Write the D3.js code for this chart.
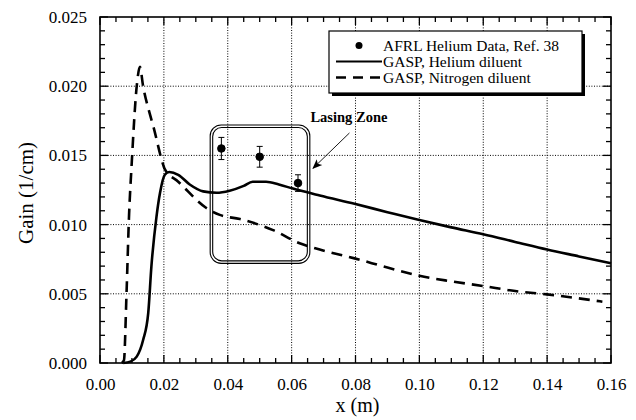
<!DOCTYPE html>
<html>
<head>
<meta charset="utf-8">
<script src="https://cdn.jsdelivr.net/npm/d3@7.9.0/dist/d3.min.js"></script>
<style>
  html, body { margin: 0; padding: 0; background: #fff; }
  svg, svg text { font-family: 'Liberation Serif', 'Times New Roman', serif; }
  .axis path, .axis line { display: none; }
  .axis text { font-size: 17px; fill: #000; font-family: 'Liberation Serif', serif; }
</style>
</head>
<body>
<div id="chart"></div>
<script>
// GASP helium diluent (solid)
const heliumX = [0.0073, 0.0095, 0.0115, 0.0135, 0.0151, 0.0161, 0.0177, 0.0188, 0.0203, 0.0217, 0.0245,
  0.0281, 0.0323, 0.0365, 0.0406, 0.045, 0.0478, 0.052, 0.056, 0.0604, 0.0688, 0.0797, 0.09, 0.10, 0.11,
  0.12, 0.13, 0.14, 0.15, 0.16];
const heliumY = [0.0, 0.0001, 0.00046, 0.00166, 0.0036, 0.0070, 0.0106, 0.0123, 0.0136, 0.0138, 0.0136,
  0.0129, 0.0124, 0.0123, 0.01245, 0.0128, 0.0131, 0.0131, 0.0129, 0.0126, 0.0121, 0.0115, 0.0109, 0.01033,
  0.0098, 0.0093, 0.00875, 0.0082, 0.0077, 0.0072];

// GASP nitrogen diluent (dashed)
const nitrogenX = [0.0068, 0.0075, 0.0083, 0.0091, 0.0099, 0.0115, 0.0125, 0.0135, 0.0156, 0.0167, 0.0193,
  0.0203, 0.0245, 0.0333, 0.0375, 0.0438, 0.0542, 0.0625, 0.0688, 0.0797, 0.09, 0.10, 0.11, 0.12, 0.13,
  0.14, 0.1573];
const nitrogenY = [0.0, 0.0002, 0.005, 0.0107, 0.0143, 0.0200, 0.0214, 0.0200, 0.0180, 0.0171, 0.0147,
  0.0140, 0.0131, 0.0112, 0.0107, 0.0104, 0.0096, 0.00865, 0.0082, 0.00756, 0.0069, 0.0063, 0.0059,
  0.00556, 0.0052, 0.00496, 0.00443];

// AFRL helium data with error bars
const afrlX = [0.038, 0.050, 0.062];
const afrlY = [0.0155, 0.0149, 0.0130];
const afrlErr = [0.0008, 0.00075, 0.0006];

const xTicks = [0, 0.02, 0.04, 0.06, 0.08, 0.10, 0.12, 0.14, 0.16];
const yTicks = [0, 0.005, 0.010, 0.015, 0.020, 0.025];

const legendLabels = ['AFRL Helium Data, Ref. 38', 'GASP, Helium diluent', 'GASP, Nitrogen diluent'];

// lasing zone box (data units) and its label
const zoneX = [0.0345, 0.0657];
const zoneY = [0.0072, 0.0172];
const zoneLabel = 'Lasing Zone';

const width = 636;
const height = 420;
const margin = { top: 17, right: 25, bottom: 57, left: 100 };

const svg = d3.select('#chart')
  .append('svg')
  .attr('width', width)
  .attr('height', height);

const x = d3.scaleLinear().domain([0, 0.16]).range([margin.left, width - margin.right]);
const y = d3.scaleLinear().domain([0, 0.025]).range([height - margin.bottom, margin.top]);

const x0 = x.range()[0], x1 = x.range()[1];
const y0 = y.range()[0], y1 = y.range()[1];

// dotted grid
const grid = svg.append('g');

grid.selectAll('line.gx')
  .data(xTicks.slice(1, -1))
  .join('line')
  .attr('class', 'gx')
  .attr('x1', (d) => x(d)).attr('x2', (d) => x(d))
  .attr('y1', y1).attr('y2', y0);

grid.selectAll('line.gy')
  .data(yTicks.slice(1, -1))
  .join('line')
  .attr('class', 'gy')
  .attr('x1', x0).attr('x2', x1)
  .attr('y1', (d) => y(d)).attr('y2', (d) => y(d));

grid.selectAll('line')
  .attr('stroke', '#000')
  .attr('stroke-width', 1)
  .attr('stroke-dasharray', '1,1.6');

// inward ticks on all four sides
const xMinor = d3.range(0, 0.1601, 0.005).filter((d) => Math.abs(d / 0.02 - Math.round(d / 0.02)) > 1e-6);
const yMinor = d3.range(0, 0.0251, 0.001).filter((d) => Math.abs(d / 0.005 - Math.round(d / 0.005)) > 1e-6);

const ticks = svg.append('g').attr('stroke', '#000').attr('stroke-width', 1.3);

function xTickMarks(values, len) {
  ticks.append('g').selectAll('line').data(values).join('line')
    .attr('x1', (d) => x(d)).attr('x2', (d) => x(d)).attr('y1', y0).attr('y2', y0 - len);
  ticks.append('g').selectAll('line').data(values).join('line')
    .attr('x1', (d) => x(d)).attr('x2', (d) => x(d)).attr('y1', y1).attr('y2', y1 + len);
}
function yTickMarks(values, len) {
  ticks.append('g').selectAll('line').data(values).join('line')
    .attr('y1', (d) => y(d)).attr('y2', (d) => y(d)).attr('x1', x0).attr('x2', x0 + len);
  ticks.append('g').selectAll('line').data(values).join('line')
    .attr('y1', (d) => y(d)).attr('y2', (d) => y(d)).attr('x1', x1).attr('x2', x1 - len);
}
xTickMarks(xMinor, 5);
xTickMarks(xTicks, 8);
yTickMarks(yMinor, 5);
yTickMarks(yTicks, 8);

// tick labels through d3 axes
svg.append('g').attr('class', 'axis')
  .attr('transform', `translate(0,${y0})`)
  .call(d3.axisBottom(x).tickValues(xTicks).tickSize(0).tickPadding(15).tickFormat(d3.format('.2f')))
  .attr('font-family', null).attr('font-size', null);

svg.append('g').attr('class', 'axis')
  .attr('transform', `translate(${x0},0)`)
  .call(d3.axisLeft(y).tickValues(yTicks).tickSize(0).tickPadding(13).tickFormat(d3.format('.3f')))
  .attr('font-family', null).attr('font-size', null);

// frame
svg.append('rect')
  .attr('x', x0).attr('y', y1)
  .attr('width', x1 - x0).attr('height', y0 - y1)
  .attr('fill', 'none').attr('stroke', '#000').attr('stroke-width', 1.6);

// axis titles
svg.append('text')
  .attr('x', (x0 + x1) / 2 + 2).attr('y', 412)
  .attr('text-anchor', 'middle')
  .attr('font-size', 20)
  .text('x (m)');

svg.append('text')
  .attr('transform', `translate(33,${(y0 + y1) / 2 + 3}) rotate(-90)`)
  .attr('text-anchor', 'middle')
  .attr('font-size', 21)
  .text('Gain (1/cm)');

// curves
const line = d3.line()
  .x((d) => x(d[0]))
  .y((d) => y(d[1]))
  .curve(d3.curveMonotoneX);

svg.append('path')
  .datum(d3.zip(nitrogenX, nitrogenY))
  .attr('d', line)
  .attr('fill', 'none')
  .attr('stroke', '#000')
  .attr('stroke-width', 2.6)
  .attr('stroke-dasharray', '11,7');

svg.append('path')
  .datum(d3.zip(heliumX, heliumY))
  .attr('d', line)
  .attr('fill', 'none')
  .attr('stroke', '#000')
  .attr('stroke-width', 2.6);

// lasing zone: double rounded box
const zx = x(zoneX[0]), zw = x(zoneX[1]) - x(zoneX[0]);
const zy = y(zoneY[1]), zh = y(zoneY[0]) - y(zoneY[1]);
svg.append('rect')
  .attr('x', zx).attr('y', zy).attr('width', zw).attr('height', zh)
  .attr('rx', 11).attr('fill', 'none').attr('stroke', '#000').attr('stroke-width', 1.1);
svg.append('rect')
  .attr('x', zx + 2.5).attr('y', zy + 2.5).attr('width', zw - 5).attr('height', zh - 5)
  .attr('rx', 9).attr('fill', 'none').attr('stroke', '#000').attr('stroke-width', 1.1);

// data points with error bars
const pts = svg.append('g').attr('stroke', '#000').attr('stroke-width', 1);
afrlX.forEach((xv, i) => {
  const cx = x(xv);
  const top = y(afrlY[i] + afrlErr[i]);
  const bot = y(afrlY[i] - afrlErr[i]);
  pts.append('line').attr('x1', cx).attr('x2', cx).attr('y1', top).attr('y2', bot);
  pts.append('line').attr('x1', cx - 3).attr('x2', cx + 3).attr('y1', top).attr('y2', top);
  pts.append('line').attr('x1', cx - 3).attr('x2', cx + 3).attr('y1', bot).attr('y2', bot);
  pts.append('circle').attr('cx', cx).attr('cy', y(afrlY[i])).attr('r', 3.8).attr('fill', '#000');
});

// lasing zone label and arrow
svg.append('defs').append('marker')
  .attr('id', 'arrow')
  .attr('viewBox', '0 0 10 10')
  .attr('refX', 9).attr('refY', 5)
  .attr('markerWidth', 10).attr('markerHeight', 10)
  .attr('markerUnits', 'userSpaceOnUse')
  .attr('orient', 'auto')
  .append('path')
  .attr('d', 'M0,1 L10,5 L0,9 L2.5,5 Z')
  .attr('fill', '#000');

svg.append('text')
  .attr('x', x(0.0659)).attr('y', y(0.01744))
  .attr('font-size', 14.5)
  .attr('font-weight', 'bold')
  .text(zoneLabel);

svg.append('line')
  .attr('x1', x(0.0781)).attr('y1', y(0.01662))
  .attr('x2', x(0.0667)).attr('y2', y(0.01407))
  .attr('stroke', '#000').attr('stroke-width', 0.9)
  .attr('marker-end', 'url(#arrow)');

// legend
const lg = svg.append('g');
const lgX = 329, lgY = 31, lgW = 253, lgH = 62;
lg.append('rect').attr('x', lgX + 3).attr('y', lgY + 3).attr('width', lgW).attr('height', lgH).attr('fill', '#000');
lg.append('rect').attr('x', lgX).attr('y', lgY).attr('width', lgW).attr('height', lgH)
  .attr('fill', '#fff').attr('stroke', '#000').attr('stroke-width', 1.2);

const rowY = [45.5, 61.5, 77.5];
lg.append('circle').attr('cx', 359).attr('cy', rowY[0]).attr('r', 3.5).attr('fill', '#000');
lg.append('line').attr('x1', 336).attr('x2', 382).attr('y1', rowY[1]).attr('y2', rowY[1])
  .attr('stroke', '#000').attr('stroke-width', 2.2);
lg.append('line').attr('x1', 336).attr('x2', 384).attr('y1', rowY[2]).attr('y2', rowY[2])
  .attr('stroke', '#000').attr('stroke-width', 2.4).attr('stroke-dasharray', '10,7');

lg.selectAll('text.leg')
  .data(legendLabels)
  .join('text')
  .attr('class', 'leg')
  .attr('x', 383)
  .attr('y', (d, i) => rowY[i] + 5)
  .attr('font-size', 15.5)
  .text((d) => d);
</script>
</body>
</html>
